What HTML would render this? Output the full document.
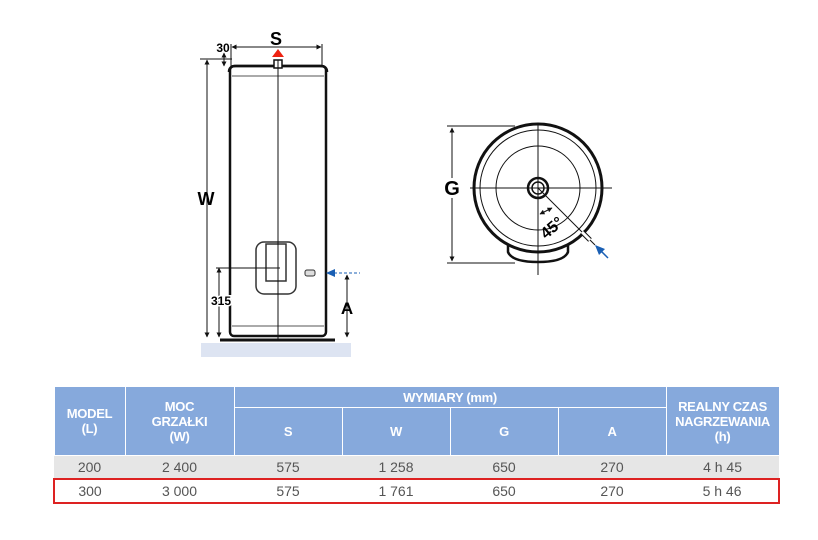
<!DOCTYPE html>
<html><head><style>
body{margin:0;width:818px;height:540px;background:#fff;font-family:"Liberation Sans",sans-serif;position:relative;overflow:hidden}
table{position:absolute;left:53px;top:386px;border-collapse:collapse;width:725px;font-size:13px;table-layout:fixed}
th{background:#86a9dc;color:#fff;font-weight:bold;border:1px solid #fff;padding:0;line-height:15px;letter-spacing:-0.3px}
td{text-align:center;color:#555;height:22px;padding:0;font-size:14px}
.r1 td{background:#e6e6e6}
.r2 td{border-top:2px solid #d22;border-bottom:2px solid #d22}
.r2 td:first-child{border-left:2px solid #d22}.r2 td:last-child{border-right:2px solid #d22}
</style></head><body>
<svg width="818" height="380" style="position:absolute;left:0;top:0" font-family="Liberation Sans" font-weight="bold">
<defs><marker id="a" viewBox="0 0 10 10" refX="9" refY="5" markerWidth="5" markerHeight="5" orient="auto-start-reverse"><path d="M0 0L10 5L0 10z" fill="#111"/></marker></defs>
<rect x="201" y="343" width="150" height="14" fill="#dde4f2"/>
<line x1="220" y1="340" x2="335" y2="340" stroke="#111" stroke-width="3"/>
<rect x="230" y="66" width="96" height="270" rx="4" fill="#fff" stroke="#111" stroke-width="2.5"/>
<path d="M229 72 Q229 66 236 66 L320 66 Q327 66 327 72" fill="none" stroke="#111" stroke-width="2.5"/>
<line x1="232" y1="76" x2="324" y2="76" stroke="#555"/><line x1="232" y1="326" x2="324" y2="326" stroke="#555"/>
<rect x="274" y="60" width="8" height="8" fill="#fff" stroke="#111" stroke-width="1.5"/>
<polygon points="272,57 284,57 278,49" fill="#e21"/>
<rect x="256" y="242" width="40" height="52" rx="8" fill="#fff" stroke="#333" stroke-width="1.5"/>
<rect x="266" y="244" width="20" height="37" fill="none" stroke="#333" stroke-width="1.5"/>
<rect x="305" y="270" width="10" height="6" rx="2" fill="#ddd" stroke="#333"/>
<line x1="278" y1="60" x2="278" y2="340" stroke="#111"/>
<line x1="216" y1="268" x2="280" y2="268" stroke="#111"/>
<line x1="207" y1="60" x2="207" y2="337" stroke="#111" marker-start="url(#a)" marker-end="url(#a)"/>
<line x1="200" y1="59" x2="232" y2="59" stroke="#111"/>
<line x1="219" y1="268" x2="219" y2="337" stroke="#111" marker-start="url(#a)" marker-end="url(#a)"/>
<line x1="347" y1="275" x2="347" y2="337" stroke="#111" marker-start="url(#a)" marker-end="url(#a)"/>
<line x1="329" y1="273" x2="360" y2="273" stroke="#1a5fb4" stroke-dasharray="3 2"/>
<polygon points="326,273 335,269 335,277" fill="#1a5fb4"/>
<line x1="232" y1="47" x2="321" y2="47" stroke="#111" marker-start="url(#a)" marker-end="url(#a)"/>
<line x1="231" y1="44" x2="231" y2="66" stroke="#111"/><line x1="322" y1="44" x2="322" y2="66" stroke="#111"/>
<line x1="224" y1="53" x2="224" y2="66" stroke="#111" marker-start="url(#a)" marker-end="url(#a)"/>
<text x="276" y="45" font-size="18" text-anchor="middle">S</text>
<text x="223" y="52" font-size="12" text-anchor="middle">30</text>
<text x="206" y="205" font-size="18" text-anchor="middle">W</text>
<text x="221" y="305" font-size="12" text-anchor="middle" style="paint-order:stroke" stroke="#fff" stroke-width="3">315</text>
<text x="347" y="314" font-size="17" text-anchor="middle">A</text>
<path d="M508 240 L508 252 Q512 262 538 262 Q564 262 568 252 L568 240" fill="#fff" stroke="#111" stroke-width="2.5"/>
<circle cx="538" cy="188" r="64" fill="#fff" stroke="#111" stroke-width="3"/>
<circle cx="538" cy="188" r="58" fill="none" stroke="#111" stroke-width="1"/>
<circle cx="538" cy="188" r="42" fill="none" stroke="#111" stroke-width="1"/>
<circle cx="538" cy="188" r="10" fill="#fff" stroke="#111" stroke-width="2.5"/>
<circle cx="538" cy="188" r="6" fill="none" stroke="#111" stroke-width="1.5"/>
<line x1="470" y1="188" x2="612" y2="188" stroke="#111"/>
<line x1="538" y1="125" x2="538" y2="275" stroke="#111"/>
<line x1="538" y1="188" x2="595" y2="245" stroke="#111"/>
<line x1="582" y1="232" x2="590" y2="240" stroke="#111" stroke-width="5"/><line x1="582" y1="232" x2="590" y2="240" stroke="#fff" stroke-width="3"/>
<line x1="596" y1="246" x2="608" y2="258" stroke="#1a5fb4" stroke-width="1.5"/>
<polygon points="595,245 605,249 599,255" fill="#1a5fb4"/>
<line x1="540" y1="214" x2="552" y2="208" stroke="#111" marker-start="url(#a)" marker-end="url(#a)"/>
<text x="552" y="233" font-size="16" text-anchor="middle" transform="rotate(-40 552 228)">45°</text>
<line x1="447" y1="126" x2="515" y2="126" stroke="#111"/><line x1="447" y1="263" x2="515" y2="263" stroke="#111"/>
<line x1="452" y1="128" x2="452" y2="261" stroke="#111" marker-start="url(#a)" marker-end="url(#a)"/>
<text x="452" y="195" font-size="20" text-anchor="middle" style="paint-order:stroke" stroke="#fff" stroke-width="6">G</text>
</svg>
<table>
<colgroup><col style="width:71px"><col style="width:109px"><col style="width:108px"><col style="width:108px"><col style="width:108px"><col style="width:108px"><col style="width:113px"></colgroup>
<tr style="height:21px"><th rowspan="2">MODEL<br>(L)</th><th rowspan="2">MOC<br>GRZAŁKI<br>(W)</th><th colspan="4">WYMIARY (mm)</th><th rowspan="2">REALNY CZAS<br>NAGRZEWANIA<br>(h)</th></tr>
<tr style="height:48px"><th>S</th><th>W</th><th>G</th><th>A</th></tr>
<tr class="r1"><td>200</td><td>2 400</td><td>575</td><td>1 258</td><td>650</td><td>270</td><td>4 h 45</td></tr>
<tr class="r2"><td>300</td><td>3 000</td><td>575</td><td>1 761</td><td>650</td><td>270</td><td>5 h 46</td></tr>
</table>
</body></html>
